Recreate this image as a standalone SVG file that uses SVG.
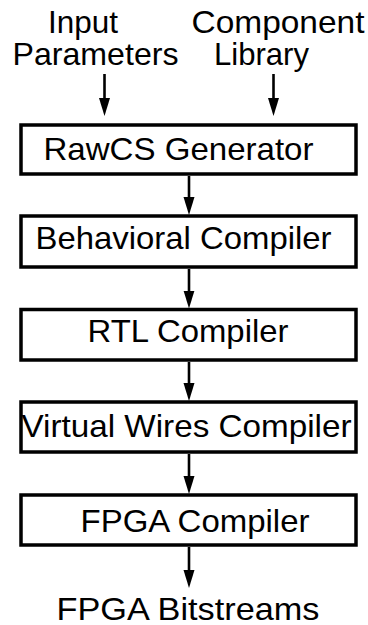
<svg xmlns="http://www.w3.org/2000/svg" width="368" height="625" viewBox="0 0 368 625">
<style>
  .box { fill: #fff; stroke: #000; stroke-width: 3.5; }
  .lbl { font-family: "Liberation Sans", Arial, Helvetica, sans-serif; font-size: 32px; fill: #000; text-anchor: middle; }
  .conn { stroke: #000; stroke-width: 2.6; fill: none; marker-end: url(#ah); }
</style>
<defs>
  <marker id="ah" markerUnits="userSpaceOnUse" viewBox="0 -6 18 12" markerWidth="18" markerHeight="12" refX="9" refY="0" orient="auto">
    <path d="M0,-5.5 L18,0 L0,5.5 z" fill="#000"/>
  </marker>
</defs>
<rect width="368" height="625" fill="#fff"/>
<g id="input-parameters">
  <text class="lbl" x="83" y="33" textLength="70" lengthAdjust="spacingAndGlyphs">Input</text>
  <text class="lbl" x="95.5" y="65" textLength="166" lengthAdjust="spacingAndGlyphs">Parameters</text>
</g>
<g id="component-library">
  <text class="lbl" x="278" y="33" textLength="173" lengthAdjust="spacingAndGlyphs">Component</text>
  <text class="lbl" x="261.5" y="65" textLength="95" lengthAdjust="spacingAndGlyphs">Library</text>
</g>
<g id="rawcs-generator">
  <rect class="box" x="21" y="125" width="335" height="49"/>
  <text class="lbl" x="178.5" y="160" textLength="270" lengthAdjust="spacingAndGlyphs">RawCS Generator</text>
</g>
<g id="behavioral-compiler">
  <rect class="box" x="21" y="216" width="335" height="51"/>
  <text class="lbl" x="183.5" y="249" textLength="296" lengthAdjust="spacingAndGlyphs">Behavioral Compiler</text>
</g>
<g id="rtl-compiler">
  <rect class="box" x="21" y="309.5" width="335" height="50.5"/>
  <text class="lbl" x="188" y="342" textLength="201" lengthAdjust="spacingAndGlyphs">RTL Compiler</text>
</g>
<g id="virtual-wires-compiler">
  <rect class="box" x="21" y="402" width="335" height="50"/>
  <text class="lbl" x="186.5" y="437" textLength="330" lengthAdjust="spacingAndGlyphs">Virtual Wires Compiler</text>
</g>
<g id="fpga-compiler">
  <rect class="box" x="21" y="495" width="335" height="50"/>
  <text class="lbl" x="195" y="532" textLength="229" lengthAdjust="spacingAndGlyphs">FPGA Compiler</text>
</g>
<g id="fpga-bitstreams">
  <text class="lbl" x="188" y="620" textLength="263" lengthAdjust="spacingAndGlyphs">FPGA Bitstreams</text>
</g>
<g id="connectors">
  <line class="conn" x1="104.5" y1="74" x2="104.5" y2="107"/>
  <line class="conn" x1="273.5" y1="74" x2="273.5" y2="107"/>
  <line class="conn" x1="189" y1="176" x2="189" y2="206"/>
  <line class="conn" x1="189" y1="269" x2="189" y2="299.5"/>
  <line class="conn" x1="189" y1="362" x2="189" y2="392"/>
  <line class="conn" x1="189" y1="454" x2="189" y2="485"/>
  <line class="conn" x1="189" y1="547" x2="189" y2="579"/>
</g>
</svg>
